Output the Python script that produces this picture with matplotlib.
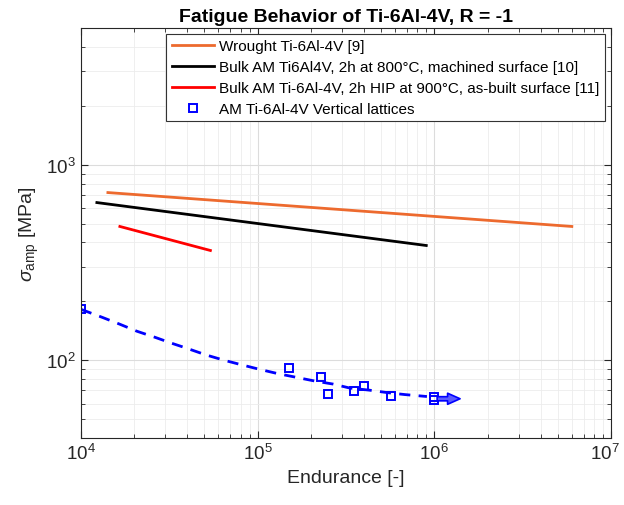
import matplotlib
matplotlib.use("Agg")
import matplotlib.pyplot as plt
import matplotlib.transforms as mtransforms
import numpy as np

plt.rcParams['font.family'] = ['Liberation Sans', 'DejaVu Sans']
plt.rcParams['mathtext.fontset'] = 'custom'
plt.rcParams['mathtext.rm'] = 'Liberation Sans'
plt.rcParams['mathtext.it'] = 'Liberation Sans:italic'

# reference curves (endpoints)
wrought_N = [1.42e4, 6.0e6]
wrought_S = [720, 483]
bulk_mach_N = [1.23e4, 9.0e5]
bulk_mach_S = [640, 386]
bulk_hip_N = [1.66e4, 5.4e4]
bulk_hip_S = [483, 364]

# lattice test points
lattice_N = [1.0e4, 1.5e5, 2.28e5, 2.5e5, 3.5e5, 4.0e5, 5.7e5, 1.0e6, 1.0e6]
lattice_S = [182, 91, 82, 67, 69.5, 73.6, 65.5, 65.2, 62.8]

# dashed fit line, read point by point
fit_N = [1.0e4, 1.32e4, 1.66e4, 2.07e4, 2.62e4, 3.27e4, 3.98e4, 5.1e4, 6.44e4,
         8.15e4, 1.02e5, 1.29e5, 2.11e5, 2.67e5, 3.33e5, 4.27e5, 5.46e5, 6.82e5, 9.08e5]
fit_S = [182, 165.6, 152.7, 140.7, 131, 122, 115, 106.4, 100,
         94.6, 89.9, 85.5, 78.2, 75.5, 72, 70.3, 68.2, 66.7, 65.2]

# run-out arrow
runout_N = [1.0e6, 1.45e6]
runout_S = 63.5

txt_col = '#262626'

fig = plt.figure(figsize=(6.24, 5.06), dpi=100)
ax = fig.add_axes([0.1298, 0.1324, 0.8494, 0.8103])

ax.plot(wrought_N, wrought_S, color='#ED6A2E', lw=2, label='Wrought Ti-6Al-4V [9]')
ax.plot(bulk_mach_N, bulk_mach_S, color='black', lw=2,
        label='Bulk AM Ti6Al4V, 2h at 800°C, machined surface [10]')
ax.plot(bulk_hip_N, bulk_hip_S, color='red', lw=2,
        label='Bulk AM Ti-6Al-4V, 2h HIP at 900°C, as-built surface [11]')
ax.plot(lattice_N, lattice_S, 's', color='blue', mfc='none', ms=5.5, mew=1.4,
        label='AM Ti-6Al-4V Vertical lattices')
ax.plot(fit_N, fit_S, color='blue', lw=2, ls=(0, (4, 3)))

ax.annotate('', xy=(runout_N[1], runout_S), xytext=(runout_N[0], runout_S),
            arrowprops=dict(arrowstyle='simple,head_width=0.8,head_length=0.9,tail_width=0.3',
                            fc='#5a5aff', ec='blue', lw=1.2))

ax.set_xscale('log')
ax.set_yscale('log')
ax.set_xlim(1e4, 1e7)
ax.set_ylim(40, 5000)

ax.grid(True, which='major', color='#dcdcdc', lw=0.8)
ax.grid(True, which='minor', color='#ececec', lw=0.6)
ax.set_axisbelow(True)
ax.tick_params(which='both', direction='in', top=True, right=True, color=txt_col,
               labelcolor=txt_col)
ax.tick_params(which='major', labelsize=13.5, length=5)
ax.tick_params(which='minor', length=3)
ax.yaxis.set_minor_formatter(matplotlib.ticker.NullFormatter())
for s in ax.spines.values():
    s.set_color(txt_col)
    s.set_linewidth(0.8)

ax.set_xlabel('Endurance [-]', fontsize=14, color=txt_col)
ax.set_ylabel(r'$\sigma_{\mathrm{amp}}$ [MPa]', fontsize=14, color=txt_col)
ax.set_title('Fatigue Behavior of Ti-6Al-4V, R = -1', fontsize=14, fontweight='bold', pad=5)

leg = ax.legend(loc='upper right', bbox_to_anchor=(0.988, 0.985), fontsize=11,
                frameon=True, fancybox=False, framealpha=1, edgecolor='#333333',
                handlelength=2.8, handletextpad=0.3, borderpad=0.35, labelspacing=0.45,
                borderaxespad=0)
leg.get_frame().set_linewidth(0.8)

# nudge the last x tick label so it stays inside the figure
fig.canvas.draw()
last = ax.get_xticklabels()[-1]
for lab in ax.get_xticklabels():
    if '7' in lab.get_text():
        lab.set_transform(lab.get_transform() +
                          mtransforms.ScaledTranslation(-6 / 100, 0, fig.dpi_scale_trans))

fig.savefig('out.png', dpi=100)
